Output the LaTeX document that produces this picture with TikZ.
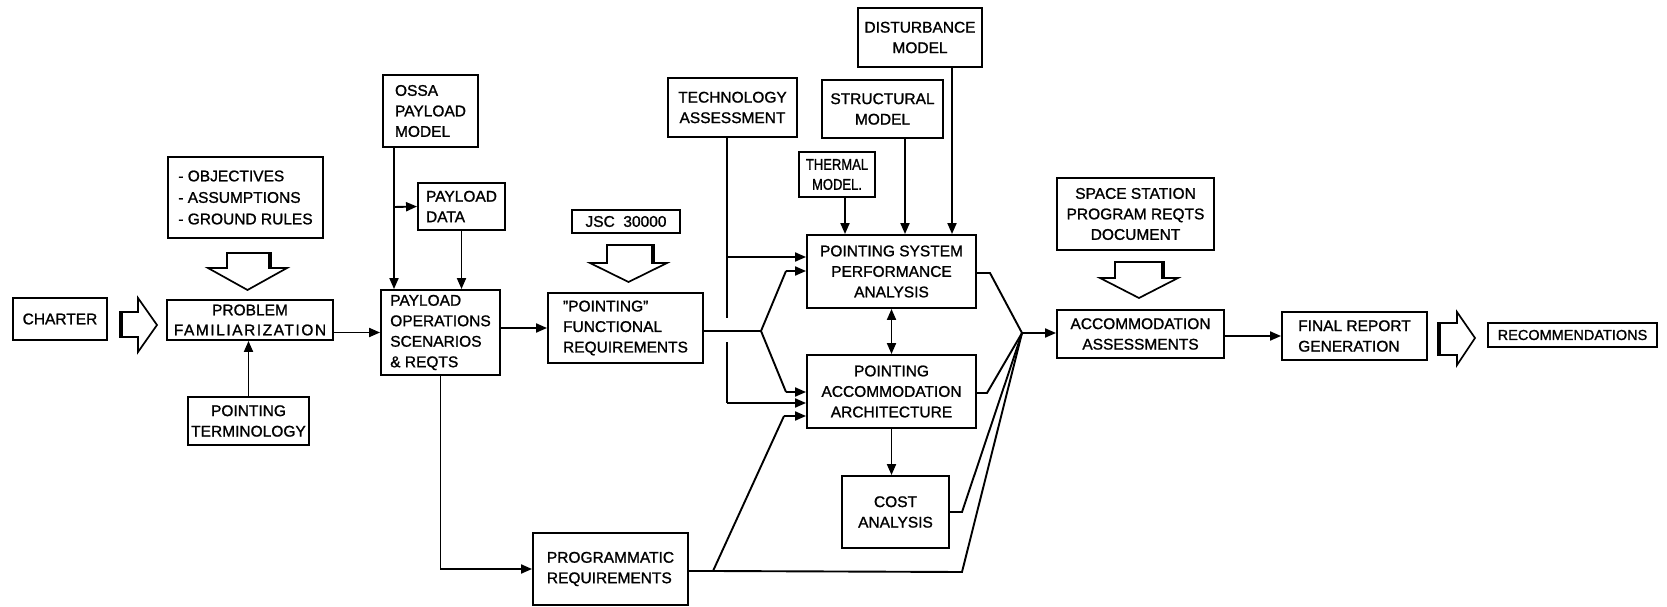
\documentclass[tikz,border=0pt]{standalone}
\usepackage{fontspec}
\setmainfont{Liberation Sans}[FakeBold=1.2]
\usetikzlibrary{arrows.meta,calc}
\begin{document}
\begin{tikzpicture}[x=1pt,y=-1pt,
  box/.style={draw, line width=1.9pt, inner sep=1pt, font=\fontsize{15.5}{20.5}\selectfont, align=center},
  arr/.style={line width=1.9pt, -{Triangle[length=11pt,width=9pt]}},
  dbl/.style={line width=1.9pt, {Triangle[length=11pt,width=9pt]}-{Triangle[length=11pt,width=9pt]}},
  ln/.style={line width=1.9pt, line join=miter},
  hollow/.style={draw, line width=1.7pt, fill=white, line join=miter},
  shade/.style={line width=3.8pt}]
\useasboundingbox (0,0) rectangle (1667,607);

% boxes
\node[box, minimum width=94pt, minimum height=42pt] (charter) at (60,319) {CHARTER};
\node[box, minimum width=155pt, minimum height=81pt, align=left, font=\fontsize{15.5}{21.5}\selectfont] (obj) at (245.5,197.5) {- OBJECTIVES\\- ASSUMPTIONS\\- GROUND RULES};
\node[box, minimum width=166pt, minimum height=40pt, font=\fontsize{15.5}{20}\selectfont] (prob) at (250,320) {PROBLEM\\{\addfontfeature{LetterSpace=10}FAMILIARIZATION}};
\node[box, minimum width=121pt, minimum height=48pt] (term) at (248.5,421) {POINTING\\TERMINOLOGY};
\node[box, minimum width=95pt, minimum height=72pt, align=left] (ossa) at (430.5,111) {OSSA\\PAYLOAD\\MODEL};
\node[box, minimum width=87pt, minimum height=47pt, align=left] (pdata) at (461.5,206.5) {PAYLOAD\\DATA};
\node[box, minimum width=119pt, minimum height=85pt, align=left] (ops) at (440.5,332.5) {PAYLOAD\\OPERATIONS\\SCENARIOS\\\& REQTS};
\node[box, minimum width=108pt, minimum height=23pt] (jsc) at (626,221.5) {JSC\ \ 30000};
\node[box, minimum width=155pt, minimum height=70pt, align=left] (pfr) at (625.5,328) {"POINTING"\\FUNCTIONAL\\REQUIREMENTS};
\node[box, minimum width=155pt, minimum height=72pt, align=left] (prog) at (610.5,569) {PROGRAMMATIC\\REQUIREMENTS};
\node[box, minimum width=129pt, minimum height=59pt] (tech) at (732.5,107.5) {TECHNOLOGY\\ASSESSMENT};
\node[box, minimum width=121pt, minimum height=58pt] (struct) at (882.5,109) {STRUCTURAL\\MODEL};
\node[box, minimum width=124pt, minimum height=59pt] (dist) at (920,37.5) {DISTURBANCE\\MODEL};
\node[box, minimum width=76pt, minimum height=45pt, font=\fontsize{15.5}{20}\selectfont] (therm) at (837,174.5) {\scalebox{0.84}[1]{THERMAL}\\\scalebox{0.84}[1]{MODEL.}};
\node[box, minimum width=169pt, minimum height=73pt] (pspa) at (891.5,271.5) {POINTING SYSTEM\\PERFORMANCE\\ANALYSIS};
\node[box, minimum width=169pt, minimum height=73pt] (paa) at (891.5,391.5) {POINTING\\ACCOMMODATION\\ARCHITECTURE};
\node[box, minimum width=107pt, minimum height=72pt] (cost) at (895.5,512) {COST\\ANALYSIS};
\node[box, minimum width=157pt, minimum height=72pt] (ss) at (1135.5,214) {SPACE STATION\\PROGRAM REQTS\\DOCUMENT};
\node[box, minimum width=167pt, minimum height=48pt] (acc) at (1140.5,334) {ACCOMMODATION\\ASSESSMENTS};
\node[box, minimum width=145pt, minimum height=48pt, align=left] (final) at (1354.5,336) {FINAL REPORT\\GENERATION};
\node[box, minimum width=169pt, minimum height=24pt, font=\fontsize{14.5}{18}\selectfont] (rec) at (1572.5,335) {RECOMMENDATIONS};

% hollow block arrows
\draw[hollow] (120,312) -- (138,312) -- (138,298) -- (157,325) -- (138,352) -- (138,337) -- (120,337) -- cycle;
\draw[shade] (121,311) -- (121,338);
\draw[hollow] (227,253) -- (270,253) -- (270,268) -- (287,268) -- (247.5,290) -- (208,268) -- (227,268) -- cycle;
\draw[shade] (270,252) -- (270,269);
\draw[hollow] (607,245) -- (653,245) -- (653,263) -- (667,263) -- (628.5,282) -- (590,263) -- (607,263) -- cycle;
\draw[shade] (653,244) -- (653,264);
\draw[hollow] (1115,262) -- (1163,262) -- (1163,278) -- (1178,278) -- (1139,298) -- (1100,278) -- (1115,278) -- cycle;
\draw[shade] (1163,261) -- (1163,279);
\draw[hollow] (1438,323) -- (1457,323) -- (1457,312) -- (1475,338) -- (1457,365) -- (1457,355) -- (1438,355) -- cycle;
\draw[shade] (1439,322) -- (1439,356);

% coordinates
\coordinate (ox) at (394,207);
\coordinate (t1) at (727,257);
\coordinate (t2) at (727,318);
\coordinate (t3) at (727,342);
\coordinate (t4) at (727,403);
\coordinate (j1) at (761,331);
\coordinate (ja) at (786,271);
\coordinate (jb) at (786,392);
\coordinate (p1) at (713,571);
\coordinate (p2) at (784,416);
\coordinate (p3) at (962,572);
\coordinate (j2) at (1022,333);
\coordinate (q1) at (990,273);
\coordinate (q2) at (987,393);
\coordinate (q3) at (962,512);
\coordinate (thx) at (845,200);
\coordinate (stx) at (905,200);
\coordinate (dsx) at (952,200);

% connectors
\draw[arr] (term.north) -- (term.north |- prob.south);
\draw[arr] (prob.east |- ops.west) -- (ops.west);
\draw[arr] (ox |- ossa.south) -- (ox |- ops.north);
\draw[arr] (ox) -- (pdata.west);
\draw[arr] (pdata.south) -- (pdata.south |- ops.north);
\draw[arr] (ops.east |- pfr.west) -- (pfr.west);
\draw[arr] (ops.south) |- (prog.west);

\draw[ln] (t1 |- tech.south) -- (t2);
\draw[arr] (t1) -- (t1 -| pspa.west);
\draw[ln] (t3) -- (t4);
\draw[arr] (t4) -- (t4 -| paa.west);

\draw[ln] (pfr.east |- j1) -- (j1) -- (ja);
\draw[arr] (ja) -- (ja -| pspa.west);
\draw[ln] (j1) -- (jb);
\draw[arr] (jb) -- (jb -| paa.west);

\draw[ln] (prog.east |- p1) -- (p1) -- (p2);
\draw[arr] (p2) -- (p2 -| paa.west);
\draw[ln] (p1) -- (p3) -- (j2);

\draw[arr] (thx |- therm.south) -- (thx |- pspa.north);
\draw[arr] (stx |- struct.south) -- (stx |- pspa.north);
\draw[arr] (dsx |- dist.south) -- (dsx |- pspa.north);

\draw[dbl] (pspa.south) -- (paa.north);
\draw[arr] (paa.south) -- (paa.south |- cost.north);

\draw[ln] (q1 -| pspa.east) -- (q1) -- (j2);
\draw[ln] (q2 -| paa.east) -- (q2) -- (j2);
\draw[ln] (cost.east |- q3) -- (q3) -- (j2);
\draw[arr] (j2) -- (j2 -| acc.west);
\draw[arr] (acc.east |- final.west) -- (final.west);
\end{tikzpicture}
\end{document}
